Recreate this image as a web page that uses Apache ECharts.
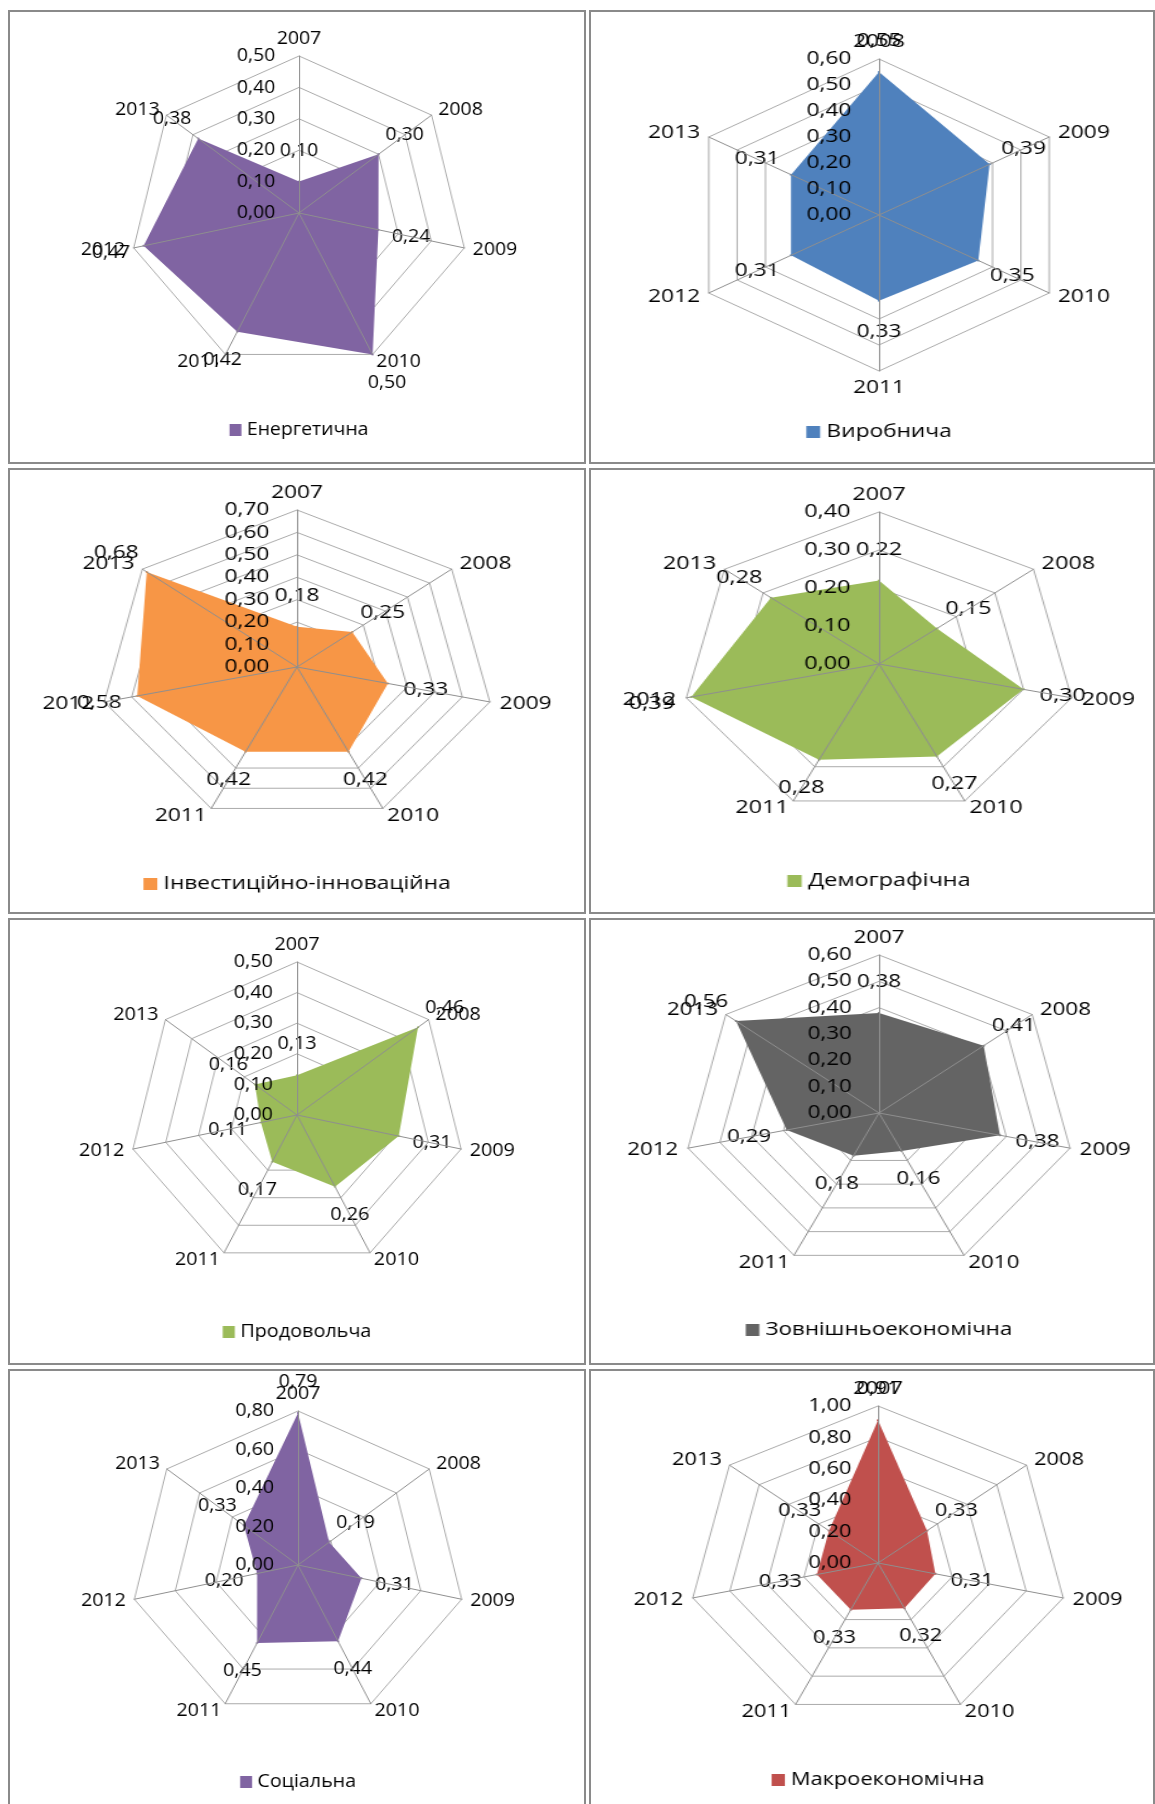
<!DOCTYPE html>
<html>
<head>
<meta charset="utf-8">
<script src="https://cdn.jsdelivr.net/npm/echarts@6/dist/echarts.min.js"></script>
<style>
  html, body { margin: 0; padding: 0; background: #ffffff; width: 1155px; height: 1804px; overflow: hidden; }
  .frame { position: absolute; box-sizing: border-box; border: 2px solid #8a8a8a; }
  .chart { position: absolute; width: 578px; height: 450px; }
</style>
</head>
<body>
<script>
// ---------- data ----------
const years = ['2007', '2008', '2009', '2010', '2011', '2012', '2013'];
const yearsFrom2008 = ['2008', '2009', '2010', '2011', '2012', '2013'];

const energyValues      = [0.10, 0.30, 0.24, 0.50, 0.42, 0.47, 0.38];
const productionValues  = [0.55, 0.39, 0.35, 0.33, 0.31, 0.31];
const investValues      = [0.18, 0.25, 0.33, 0.42, 0.42, 0.58, 0.68];
const demographyValues  = [0.22, 0.15, 0.30, 0.27, 0.28, 0.39, 0.28];
const foodValues        = [0.13, 0.46, 0.31, 0.26, 0.17, 0.11, 0.16];
const foreignValues     = [0.38, 0.41, 0.38, 0.16, 0.18, 0.29, 0.56];
const socialValues      = [0.79, 0.19, 0.31, 0.44, 0.45, 0.20, 0.33];
const macroValues       = [0.91, 0.33, 0.31, 0.32, 0.33, 0.33, 0.33];

const seriesNames = ['Енергетична', 'Виробнича', 'Інвестиційно-інноваційна', 'Демографічна',
                     'Продовольча', 'Зовнішньоекономічна', 'Соціальна', 'Макроекономічна'];
const axisMax   = [0.5, 0.6, 0.7, 0.4, 0.5, 0.6, 0.8, 1.0];
const axisSplit = [5, 6, 7, 4, 5, 6, 4, 5];

// ---------- panels ----------
const panels = [
  { name: seriesNames[0], cats: years,          values: energyValues,     color: '#8064A2' },
  { name: seriesNames[1], cats: yearsFrom2008,  values: productionValues, color: '#4F81BD' },
  { name: seriesNames[2], cats: years,          values: investValues,     color: '#F79646' },
  { name: seriesNames[3], cats: years,          values: demographyValues, color: '#9BBB59' },
  { name: seriesNames[4], cats: years,          values: foodValues,       color: '#9BBB59' },
  { name: seriesNames[5], cats: years,          values: foreignValues,    color: '#646464' },
  { name: seriesNames[6], cats: years,          values: socialValues,     color: '#8064A2' },
  { name: seriesNames[7], cats: years,          values: macroValues,      color: '#C0504D' }
];

// ---------- layout (page pixels) ----------
// each original chart picture was pasted with its own horizontal stretch
const layout = [
  { x: 299, y: 213,  r: 157, sx: 1.08 },
  { x: 879, y: 215,  r: 156, sx: 1.26 },
  { x: 297, y: 667,  r: 157, sx: 1.26 },
  { x: 879, y: 664,  r: 152, sx: 1.30 },
  { x: 297, y: 1115, r: 153, sx: 1.10 },
  { x: 879, y: 1113, r: 158, sx: 1.24 },
  { x: 298, y: 1565, r: 154, sx: 1.09 },
  { x: 878, y: 1563, r: 157, sx: 1.21 }
];
const frameCols = [[8, 578], [589, 566]];
const frameRows = [[10, 454], [468, 446], [918, 447], [1369, 460]];

const FONT = '"Open Sans", "Noto Sans", sans-serif';
const FS = 18;
const TXT = '#000000';
const CX = 289, CY = 210, LABEL_DIST = 31;

function fmt(v) { return Number(v).toFixed(2).replace('.', ','); }

// frames
frameRows.forEach(function (r) {
  frameCols.forEach(function (c) {
    const d = document.createElement('div');
    d.className = 'frame';
    d.style.left = c[0] + 'px'; d.style.width = c[1] + 'px';
    d.style.top = r[0] + 'px'; d.style.height = r[1] + 'px';
    document.body.appendChild(d);
  });
});

panels.forEach(function (p, i) {
  const L = layout[i];
  const div = document.createElement('div');
  div.className = 'chart';
  div.style.left = (L.x - CX) + 'px';
  div.style.top = (L.y - CY) + 'px';
  document.body.appendChild(div);

  const n = p.cats.length;
  // ECharts places indicators counter-clockwise; reorder so they run clockwise like the original
  const order = [0];
  for (let k = n - 1; k >= 1; k--) order.push(k);
  const max = axisMax[i], split = axisSplit[i];

  const ind0 = order.map(function (k) { return { name: p.cats[k], min: 0, max: max }; });
  const ind1 = order.map(function (k, j) {
    return { name: p.cats[k], min: 0, max: max, axisLabel: { show: j === 0 } };
  });
  const vals = order.map(function (k) { return p.values[k]; });

  const chart = echarts.init(div, null, { renderer: 'canvas' });
  chart.setOption({
    animation: false,
    legend: {
      data: [p.name],
      left: 'center',
      top: CY + 203,
      icon: 'rect',
      itemWidth: 11,
      itemHeight: 12,
      itemGap: 10,
      textStyle: { fontFamily: FONT, fontSize: FS, color: TXT }
    },
    radar: [
      {
        center: [CX, CY],
        radius: L.r,
        startAngle: 90,
        shape: 'polygon',
        splitNumber: split,
        indicator: ind0,
        axisName: { show: true, fontFamily: FONT, fontSize: FS, color: TXT },
        nameGap: 8,
        splitLine: { show: true, lineStyle: { color: '#ababab', width: 1 } },
        splitArea: { show: false },
        axisLine: { show: false },
        axisTick: { show: false },
        axisLabel: { show: false }
      },
      {
        z: 10,
        center: [CX, CY],
        radius: L.r,
        startAngle: 90,
        shape: 'polygon',
        splitNumber: split,
        indicator: ind1,
        axisName: { show: false },
        splitLine: { show: false },
        splitArea: { show: false },
        axisLine: { show: true, lineStyle: { color: '#8f8f8f', width: 1 } },
        axisTick: { show: false },
        axisLabel: {
          show: false,
          margin: 22,
          fontFamily: FONT,
          fontSize: FS,
          color: TXT,
          formatter: function (v) { return fmt(v); }
        }
      }
    ],
    series: [{
      type: 'radar',
      radarIndex: 0,
      z: 2,
      symbol: 'circle',
      symbolSize: 2,
      itemStyle: { color: p.color },
      lineStyle: { width: 0, color: p.color },
      areaStyle: { color: p.color, opacity: 1 },
      label: {
        show: true,
        position: 'inside',
        fontFamily: FONT,
        fontSize: FS,
        color: TXT,
        formatter: function (params) { return fmt(params.value); }
      },
      labelLayout: function (lp) {
        const r = lp.rect;
        const px = r.x + r.width / 2, py = r.y + r.height / 2;
        const dx = px - CX, dy = py - CY;
        const len = Math.sqrt(dx * dx + dy * dy) || 1;
        return {
          x: px + dx / len * LABEL_DIST,
          y: py + dy / len * LABEL_DIST,
          align: 'center',
          verticalAlign: 'middle'
        };
      },
      data: [{ value: vals, name: p.name }]
    }]
  });

  div.style.transformOrigin = CX + 'px ' + CY + 'px';
  div.style.transform = 'scaleX(' + L.sx + ')';
});
</script>
</body>
</html>
